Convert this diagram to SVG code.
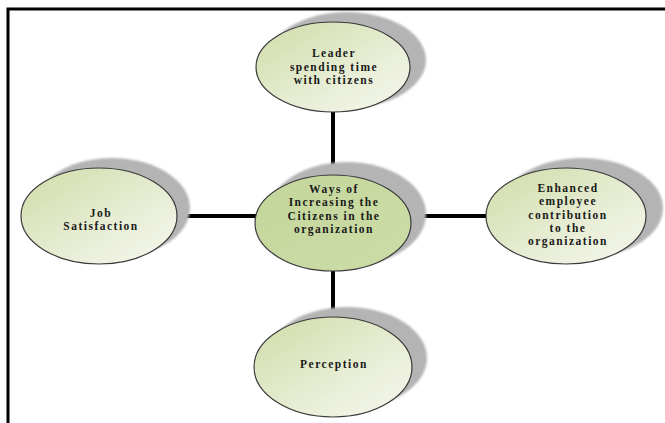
<svg xmlns="http://www.w3.org/2000/svg" width="665" height="423" viewBox="0 0 665 423">
<defs>
<linearGradient id="g" x1="0" y1="0" x2="1" y2="1">
<stop offset="0" stop-color="#cfdca8"/>
<stop offset="0.6" stop-color="#e8eed6"/>
<stop offset="1" stop-color="#f6f8ee"/>
</linearGradient>
<linearGradient id="gc" x1="0" y1="0" x2="1" y2="1">
<stop offset="0" stop-color="#c4d69a"/>
<stop offset="1" stop-color="#cddca8"/>
</linearGradient>
<filter id="blur" x="-20%" y="-20%" width="140%" height="140%">
<feGaussianBlur stdDeviation="1.2"/>
</filter>
</defs>
<style>
.sh{fill:#b4b4b4;filter:url(#blur)}
.el{fill:url(#g);stroke:#3a3a3a;stroke-width:1.2}
.ec{fill:url(#gc);stroke:#3a3a3a;stroke-width:1.2}
.t{font-family:"Liberation Serif","Times New Roman",serif;font-weight:bold;font-size:11.5px;letter-spacing:1.5px;fill:#1a1a1a;text-anchor:middle}
.frame{stroke:#000;stroke-width:3;fill:none}
.conn{stroke:#000;stroke-width:4;fill:none}
</style>
<rect width="665" height="423" fill="#fff"/>
<path class="frame" d="M8,423 V9 H665"/>
<g id="connectors">
<line class="conn" x1="333" y1="105" x2="333" y2="325"/>
<line class="conn" x1="170" y1="216" x2="492" y2="216"/>
</g>
<g id="top">
<ellipse class="sh" cx="347" cy="60" rx="79" ry="48"/>
<ellipse class="el" cx="333" cy="67" rx="77" ry="45"/>
<text class="t" x="334" y="57">Leader</text>
<text class="t" x="334" y="70.5">spending time</text>
<text class="t" x="334" y="84">with citizens</text>
</g>
<g id="center">
<ellipse class="sh" cx="347" cy="214" rx="79" ry="52"/>
<ellipse class="ec" cx="333" cy="223" rx="78" ry="48"/>
<text class="t" x="334" y="193">Ways of</text>
<text class="t" x="334" y="206.3">Increasing the</text>
<text class="t" x="334" y="219.6">Citizens in the</text>
<text class="t" x="334" y="233">organization</text>
</g>
<g id="right">
<ellipse class="sh" cx="582" cy="208" rx="81" ry="50"/>
<ellipse class="el" cx="566" cy="216" rx="80" ry="48"/>
<text class="t" x="568" y="192">Enhanced</text>
<text class="t" x="568" y="205.3">employee</text>
<text class="t" x="568" y="218.6">contribution</text>
<text class="t" x="568" y="232">to the</text>
<text class="t" x="568" y="245.3">organization</text>
</g>
<g id="left">
<ellipse class="sh" cx="112" cy="208" rx="78" ry="50"/>
<ellipse class="el" cx="99" cy="216" rx="78" ry="48"/>
<text class="t" x="101" y="217">Job</text>
<text class="t" x="101" y="230.3">Satisfaction</text>
</g>
<g id="bottom">
<ellipse class="sh" cx="347" cy="358" rx="80" ry="51"/>
<ellipse class="el" cx="333" cy="367" rx="79" ry="50"/>
<text class="t" x="334" y="368">Perception</text>
</g>
</svg>
